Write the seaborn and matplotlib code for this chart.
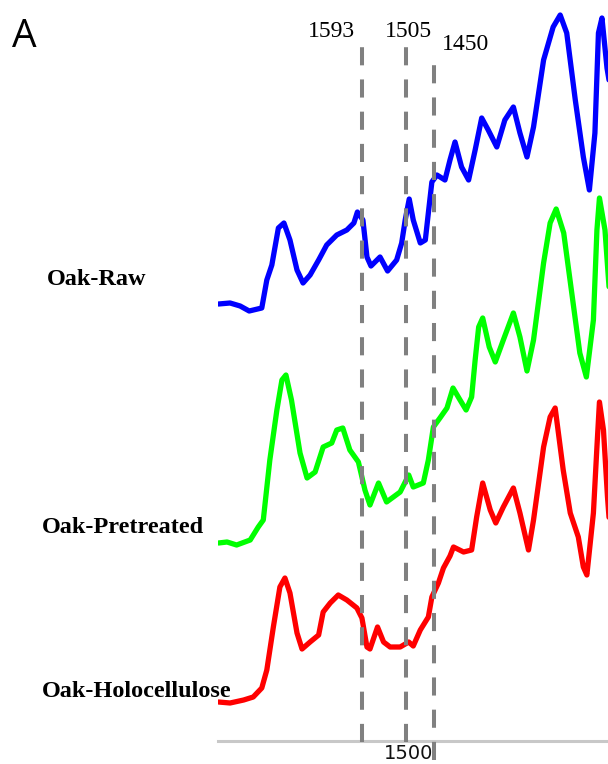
import matplotlib
matplotlib.use("Agg")
import matplotlib.pyplot as plt
import seaborn as sns
import pandas as pd

# FTIR spectra (wavenumber in cm-1, absorbance in a.u., stacked)
raw_wn = [1878, 1855, 1835, 1817, 1792, 1782, 1772, 1759, 1748, 1736, 1722, 1710, 1696,
          1679, 1663, 1643, 1623, 1609, 1602, 1591, 1583, 1575, 1557, 1542, 1524, 1514,
          1507, 1499, 1491, 1477, 1467, 1461, 1454, 1444, 1428, 1418, 1408, 1395, 1381,
          1368, 1355, 1342, 1325, 1309, 1292, 1279, 1265, 1252, 1232, 1213, 1199, 1186,
          1169, 1153, 1141, 1130, 1123, 1116, 1106, 1100]
raw_abs = [4.37, 4.38, 4.35, 4.30, 4.33, 4.61, 4.76, 5.13, 5.18, 5.01, 4.71, 4.58, 4.66,
           4.81, 4.96, 5.06, 5.11, 5.18, 5.29, 5.21, 4.84, 4.75, 4.84, 4.70, 4.81, 4.98,
           5.21, 5.42, 5.21, 4.98, 5.01, 5.28, 5.59, 5.66, 5.61, 5.81, 5.99, 5.74, 5.61,
           5.91, 6.23, 6.11, 5.94, 6.21, 6.34, 6.08, 5.84, 6.14, 6.81, 7.14, 7.26, 7.08,
           6.41, 5.84, 5.51, 6.08, 7.08, 7.23, 6.73, 6.55]

pre_wn = [1878, 1861, 1842, 1815, 1799, 1789, 1776, 1762, 1752, 1744, 1733, 1716, 1702,
          1686, 1670, 1653, 1643, 1631, 1617, 1600, 1587, 1577, 1560, 1544, 1517, 1500,
          1491, 1471, 1461, 1451, 1438, 1424, 1412, 1398, 1386, 1375, 1368, 1361, 1353,
          1340, 1328, 1312, 1292, 1279, 1265, 1252, 1232, 1219, 1207, 1192, 1176, 1160,
          1147, 1133, 1126, 1121, 1110, 1100]
pre_abs = [1.98, 1.99, 1.96, 2.01, 2.14, 2.21, 2.81, 3.31, 3.61, 3.66, 3.41, 2.88, 2.63,
           2.69, 2.94, 2.98, 3.11, 3.13, 2.91, 2.79, 2.51, 2.36, 2.58, 2.39, 2.49, 2.66,
           2.54, 2.58, 2.81, 3.14, 3.23, 3.33, 3.53, 3.41, 3.31, 3.44, 3.81, 4.14, 4.23,
           3.94, 3.79, 4.01, 4.28, 4.04, 3.70, 4.01, 4.78, 5.18, 5.32, 5.08, 4.48, 3.88,
           3.64, 4.21, 5.11, 5.43, 5.11, 4.40]

holo_wn = [1878, 1855, 1828, 1809, 1792, 1782, 1769, 1756, 1746, 1736, 1722, 1712, 1696,
           1679, 1670, 1656, 1640, 1623, 1603, 1593, 1583, 1577, 1562, 1550, 1537, 1517,
           1500, 1491, 1477, 1461, 1454, 1441, 1431, 1418, 1411, 1391, 1375, 1365, 1353,
           1338, 1327, 1312, 1292, 1279, 1262, 1252, 1232, 1219, 1209, 1193, 1179, 1163,
           1153, 1146, 1133, 1126, 1121, 1113, 1105, 1100]
holo_abs = [0.39, 0.38, 0.41, 0.44, 0.53, 0.71, 1.14, 1.54, 1.63, 1.48, 1.08, 0.92, 0.99,
            1.06, 1.29, 1.38, 1.46, 1.41, 1.33, 1.23, 0.94, 0.92, 1.14, 0.99, 0.94, 0.94,
            0.99, 0.95, 1.11, 1.24, 1.44, 1.58, 1.73, 1.85, 1.94, 1.89, 1.91, 2.24, 2.58,
            2.31, 2.18, 2.34, 2.53, 2.28, 1.91, 2.21, 2.94, 3.24, 3.33, 2.71, 2.28, 2.04,
            1.74, 1.66, 2.28, 2.94, 3.39, 3.11, 2.44, 2.10]

series_names = ["Oak-Raw", "Oak-Pretreated", "Oak-Holocellulose"]
series_colors = ["#0000ff", "#00ff00", "#ff0000"]

marker_wn = [1593, 1505, 1450]
marker_labels = ["1593", "1505", "1450"]

tick_wn = [1815, 1500, 1265]
tick_labels = ["", "1500", ""]

df = pd.concat([
    pd.DataFrame({"wn": raw_wn, "abs": raw_abs, "sample": series_names[0]}),
    pd.DataFrame({"wn": pre_wn, "abs": pre_abs, "sample": series_names[1]}),
    pd.DataFrame({"wn": holo_wn, "abs": holo_abs, "sample": series_names[2]}),
])

sns.set_style("white")
plt.rcParams["font.family"] = ["DejaVu Sans"]
plt.rcParams["text.color"] = "black"

W, H = 608, 764
fig = plt.figure(figsize=(W / 100, H / 100), dpi=100)
ax = fig.add_axes([218 / W, (H - 741) / H, 390 / W, 741 / H])

for name, col in zip(series_names, series_colors):
    sub = df[df["sample"] == name]
    sns.lineplot(data=sub, x="wn", y="abs", color=col, linewidth=3.8,
                 estimator=None, sort=False, ax=ax, legend=False)

ax.set_xlim(1879, 1104)
ax.set_ylim(0, 7.41)

# dashed guide lines for the marker bands
line_top = [6.99, 6.99, 6.87]
line_bot = [-0.01, -0.01, -0.19]
for wn, top, bot in zip(marker_wn, line_top, line_bot):
    ax.plot([wn, wn], [bot, top], color="#808080", linewidth=2.9,
            linestyle=(0, (4.5, 3.5)), clip_on=False, zorder=3)

label_off = [(-5, 3.5, "right"), (2, 3.5, "center"), (6, 3, "left")]
for wn, top, lab, (dx, dy, ha) in zip(marker_wn, line_top, marker_labels, label_off):
    ax.annotate(lab, xy=(wn, top), xytext=(dx, dy), textcoords="offset points",
                ha=ha, va="baseline", fontsize=17, family="Liberation Serif",
                color="black", annotation_clip=False)

ax.set_xticks(tick_wn)
ax.set_xticklabels(tick_labels)
ax.tick_params(axis="x", direction="inout", length=2, width=1.5, color="#333333",
               pad=1, labelsize=14, labelcolor="#111111")
ax.set_yticks([])
ax.set_xlabel("")
ax.set_ylabel("")
for side in ["top", "right", "left"]:
    ax.spines[side].set_visible(False)
ax.spines["bottom"].set_color("#c8c8c8")
ax.spines["bottom"].set_linewidth(2.2)

label_pos = [(47, 285), (42, 533), (42, 697)]
for name, (px, py) in zip(series_names, label_pos):
    fig.text(px / W, 1 - py / H, name, fontsize=17.5, family="Liberation Serif",
             weight="bold", va="baseline", ha="left", color="black")

fig.text(12 / W, 1 - 47 / H, "A", fontsize=28, family="Open Sans",
         weight="normal", va="baseline", ha="left", color="black")

fig.savefig("out.png", dpi=100)
